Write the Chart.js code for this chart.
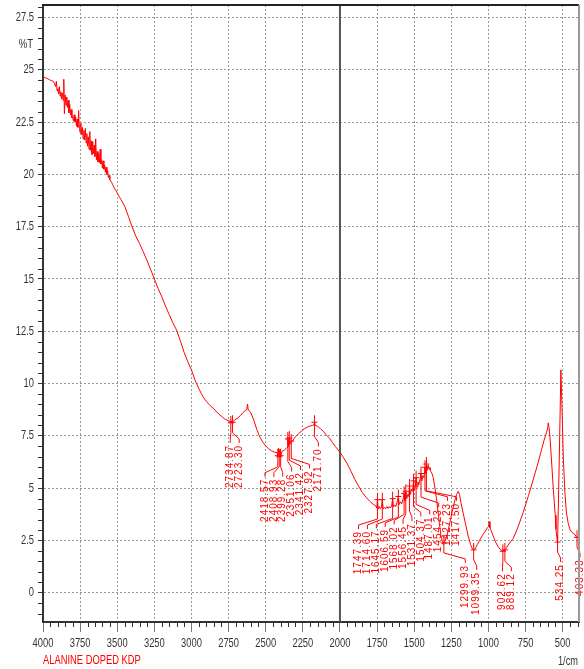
<!DOCTYPE html>
<html>
<head>
<meta charset="utf-8">
<title>ALANINE DOPED KDP</title>
<script src="https://cdn.jsdelivr.net/npm/chart.js@4.4.0/dist/chart.umd.min.js"></script>
<style>
    html, body { margin: 0; padding: 0; background: #fff; }
    #wrap { width: 584px; height: 669px; }
</style>
</head>
<body>
<div id="wrap"><canvas id="ftirChart" width="584" height="669"></canvas></div>
<script>
// FTIR spectrum - alanine doped KDP

// Wavenumbers (1/cm)
const wavenumbers = [
    4000, 3985, 3970, 3955, 3942, 3930,
    3922, 3915, 3910, 3905, 3900, 3895, 3890, 3885, 3880, 3875,
    3870, 3865, 3860, 3856, 3850, 3845, 3840, 3835, 3830, 3825,
    3820, 3815, 3810, 3805, 3800, 3795, 3790, 3785, 3780, 3775,
    3770, 3765, 3760, 3755, 3750, 3745, 3740, 3735, 3730, 3725,
    3720, 3715, 3710, 3705, 3700, 3695, 3690, 3685, 3680, 3675,
    3670, 3665, 3660, 3655, 3650, 3645, 3640, 3635, 3630, 3625,
    3620, 3615, 3610, 3605, 3600, 3595, 3590, 3585, 3580, 3575,
    3570, 3565, 3560, 3555, 3550, 3540, 3530, 3520, 3510, 3500,
    3475, 3450, 3425, 3400, 3375, 3350, 3325, 3300, 3275, 3250,
    3225, 3200, 3175, 3150, 3125, 3100, 3075, 3050, 3025, 3000,
    2975, 2950, 2925, 2900, 2875, 2850, 2825, 2800, 2775, 2750,
    2740, 2734.87, 2728, 2723.3, 2710, 2700, 2685, 2670, 2655, 2640,
    2628, 2622, 2618, 2612, 2600, 2580, 2560, 2540, 2520, 2500,
    2480, 2460, 2440, 2425, 2418.57, 2413, 2408.93, 2404, 2399.28, 2390,
    2375, 2362, 2355, 2351.06, 2347, 2341.42, 2336, 2327.92, 2320, 2300,
    2280, 2260, 2240, 2220, 2200, 2185, 2176, 2171.7, 2166, 2150,
    2130, 2110, 2090, 2070, 2050, 2030, 2015, 2000,
    1975, 1950, 1925, 1900, 1875, 1850, 1825, 1800, 1775, 1760,
    1752, 1747.39, 1742, 1735, 1728, 1720, 1714.6, 1709, 1700, 1692,
    1684, 1676, 1668, 1660, 1652, 1645.17, 1640, 1632, 1624, 1616,
    1606.59, 1600, 1592, 1584, 1576, 1568.02, 1562, 1556.45, 1550, 1543,
    1537, 1531.37, 1525, 1518, 1511, 1504.37, 1498, 1492, 1487.01, 1481,
    1475, 1469, 1462, 1454.23, 1448, 1441, 1434, 1427.23, 1422, 1417.5,
    1412, 1406, 1400, 1394, 1388,
    1380, 1372, 1360, 1350, 1340, 1330, 1320, 1310, 1299.93, 1290,
    1275, 1260, 1240, 1225, 1214, 1203, 1195, 1185, 1170, 1150,
    1136, 1120, 1110, 1099.35, 1090, 1075, 1060, 1040, 1020, 1008,
    1000, 995, 990, 980, 965, 950, 935, 920, 910, 902.62,
    895, 889.12, 880, 870, 850, 833, 800, 766, 730, 698,
    670, 642, 625, 609, 600, 597, 592, 585, 575, 563,
    550, 545, 540, 534.25, 528, 520, 512, 505, 496, 485,
    475, 462, 451, 440, 430, 418, 410, 403.33
];

// Transmittance (%T), same order
const transmittance = [
    24.7, 24.62, 24.58, 24.52, 24.48, 24.45,
    24.33, 24.2, 24.45, 24.0, 24.1, 23.85, 24.2, 23.75, 23.95, 23.6,
    23.9, 23.55, 24.55, 22.9, 23.8, 23.3, 23.7, 23.2, 23.55, 22.95,
    23.35, 22.85, 23.1, 22.7, 22.75, 22.55, 22.85, 22.5, 22.75, 22.3,
    22.65, 22.25, 23.05, 22.2, 22.0, 22.45, 21.9, 22.25, 21.7, 22.1,
    21.65, 22.2, 21.5, 21.95, 21.35, 21.8, 21.2, 22.05, 21.15, 21.6,
    20.95, 21.55, 21.0, 21.4, 20.85, 21.7, 20.7, 21.1, 20.6, 21.0,
    20.55, 21.2, 20.5, 20.7, 20.3, 20.65, 20.25, 20.45, 20.1, 20.35,
    20.0, 20.2, 19.85, 19.95, 19.75, 19.65, 19.5, 19.35, 19.25, 19.1,
    18.8, 18.48, 18.0, 17.5, 17.05, 16.7, 16.3, 15.9, 15.45, 15.0,
    14.55, 14.15, 13.7, 13.3, 12.9, 12.55, 12.05, 11.5, 11.05, 10.65,
    10.15, 9.75, 9.4, 9.15, 8.95, 8.8, 8.6, 8.45, 8.3, 8.22,
    8.2, 8.12, 8.22, 8.15, 8.26, 8.3, 8.36, 8.48, 8.6, 8.7,
    8.75, 9.02, 8.74, 8.72, 8.6, 8.25, 7.8, 7.45, 7.2, 7.02,
    6.88, 6.78, 6.72, 6.7, 6.55, 6.9, 6.5, 6.85, 6.55, 6.75,
    6.82, 6.9, 6.95, 7.35, 7.0, 7.4, 7.1, 7.25, 7.25, 7.45,
    7.6, 7.72, 7.84, 7.92, 7.97, 8.0, 8.02, 8.15, 8.0, 7.95,
    7.83, 7.7, 7.53, 7.38, 7.18, 6.98, 6.85, 6.72,
    6.45, 6.15, 5.8, 5.42, 5.1, 4.8, 4.57, 4.38, 4.22, 4.17,
    4.05, 4.45, 4.0, 4.12, 4.02, 4.1, 4.45, 4.0, 4.08, 4.02,
    4.12, 4.03, 4.12, 4.05, 4.15, 4.5, 4.1, 4.2, 4.12, 4.3,
    4.6, 4.22, 4.35, 4.25, 4.45, 4.75, 4.38, 4.85, 4.5, 4.7,
    4.6, 5.1, 4.7, 4.95, 4.85, 5.35, 4.9, 5.1, 5.5, 5.05,
    5.3, 5.15, 5.4, 5.7, 5.35, 5.6, 5.5, 6.0, 5.7, 6.15,
    5.85, 6.1, 5.9, 6.0, 5.8,
    5.7, 5.5, 5.0, 4.5, 3.9, 3.3, 2.75, 2.45, 2.38, 2.5,
    2.85, 3.35, 4.0, 4.45, 4.7, 4.85, 4.7, 4.3, 3.8, 3.15,
    2.7, 2.3, 2.12, 2.05, 2.1, 2.3, 2.5, 2.75, 2.95, 3.1,
    3.15, 3.4, 3.1, 2.95, 2.65, 2.4, 2.2, 2.07, 2.02, 1.98,
    2.02, 2.05, 2.12, 2.25, 2.45, 2.6, 3.15, 3.84, 4.65, 5.42,
    6.1, 6.85, 7.3, 7.65, 7.9, 8.12, 7.9, 7.4, 6.3, 4.94,
    3.7, 3.03, 2.7, 2.42, 4.5, 7.5, 10.65, 9.0, 6.53, 4.8,
    3.82, 3.3, 3.03, 2.9, 2.85, 2.79, 2.7, 2.65
];

// Labelled peaks (1/cm)
const peakWavenumbers = [
    2734.87, 2723.30, 2418.57, 2408.93, 2399.28, 2351.06, 2341.42, 2327.92, 2171.70,
    1747.39, 1714.60, 1645.17, 1606.59, 1568.02, 1556.45, 1531.37, 1504.37, 1487.01,
    1454.23, 1427.23, 1417.50, 1299.93, 1099.35, 902.62, 889.12, 534.25, 403.33
];

// Axes
const xTickValues = [4000, 3750, 3500, 3250, 3000, 2750, 2500, 2250, 2000, 1750, 1500, 1250, 1000, 750, 500];
const yTickValues = [0, 2.5, 5, 7.5, 10, 12.5, 15, 17.5, 20, 22.5, 25, 27.5];
const xRange = [390, 4000];
const yRange = [-1.4, 28.1];

const sampleName = 'ALANINE DOPED KDP';
const xUnit = '1/cm';
const yUnit = '%T';

const RED = '#ff0000';
const AXIS_FONT = '13px "Liberation Sans", Arial, sans-serif';

document.addEventListener('DOMContentLoaded', function () {
    if (wavenumbers.length !== transmittance.length) {
        console.warn('Longueurs différentes', wavenumbers.length, transmittance.length);
    }
    initChart();
});

// %T at any wavenumber (linear between read points)
function transAt(w) {
    for (let i = 1; i < wavenumbers.length; i++) {
        if (w >= wavenumbers[i]) {
            const w0 = wavenumbers[i - 1], w1 = wavenumbers[i];
            const t = (w0 - w) / (w0 - w1);
            return transmittance[i - 1] + t * (transmittance[i] - transmittance[i - 1]);
        }
    }
    return transmittance[transmittance.length - 1];
}

// Spread label columns so they do not overlap
function spreadColumns(xs, gap) {
    const groups = [];
    xs.forEach((xc, i) => {
        groups.push({ idx: [i], sum: xc, start: xc });
        while (groups.length > 1) {
            const g = groups[groups.length - 1];
            const p = groups[groups.length - 2];
            if (p.start + p.idx.length * gap <= g.start) break;
            p.idx = p.idx.concat(g.idx);
            p.sum += g.sum;
            p.start = p.sum / p.idx.length - (p.idx.length - 1) * gap / 2;
            groups.pop();
        }
    });
    const out = [];
    groups.forEach(g => g.idx.forEach((i, k) => { out[i] = g.start + k * gap; }));
    return out;
}

// Condensed text (the instrument print uses a narrow face)
function narrowText(ctx, text, x, y, align, sx) {
    ctx.save();
    ctx.translate(x, y);
    ctx.scale(sx, 1);
    ctx.textAlign = align;
    ctx.fillText(text, 0, 0);
    ctx.restore();
}

const framePlugin = {
    id: 'frame',
    beforeDatasetsDraw(chart) {
        const { ctx, chartArea: a, scales: { x } } = chart;
        // vertical line at 2000 1/cm
        const x2000 = x.getPixelForValue(2000);
        ctx.save();
        ctx.strokeStyle = '#555';
        ctx.lineWidth = 2;
        ctx.beginPath();
        ctx.moveTo(x2000, a.top);
        ctx.lineTo(x2000, a.bottom);
        ctx.stroke();
        ctx.restore();
    },
    afterDraw(chart) {
        const { ctx, chartArea: a, scales: { x, y } } = chart;
        ctx.save();

        // top and right border
        ctx.strokeStyle = '#222';
        ctx.lineWidth = 2;
        ctx.beginPath();
        ctx.moveTo(a.left - 1, a.top);
        ctx.lineTo(a.right, a.top);
        ctx.stroke();
        ctx.strokeStyle = '#999';
        ctx.beginPath();
        ctx.moveTo(a.right, a.top);
        ctx.lineTo(a.right, a.bottom);
        ctx.stroke();

        // minor ticks
        ctx.strokeStyle = '#333';
        ctx.lineWidth = 1;
        ctx.beginPath();
        for (let k = 80; k >= 8; k--) {
            const v = k * 50;
            if (v % 250 === 0) continue;
            const px = Math.round(x.getPixelForValue(v)) + 0.5;
            ctx.moveTo(px, a.bottom);
            ctx.lineTo(px, a.bottom + 5);
        }
        for (let k = -2; k <= 56; k++) {
            if (k % 5 === 0) continue;
            const py = Math.round(y.getPixelForValue(k * 0.5)) + 0.5;
            ctx.moveTo(a.left - 5, py);
            ctx.lineTo(a.left, py);
        }
        ctx.stroke();

        // tick labels
        ctx.font = AXIS_FONT;
        ctx.fillStyle = '#333';
        ctx.textBaseline = 'middle';
        x.ticks.forEach(t => {
            narrowText(ctx, String(t.value), x.getPixelForValue(t.value), a.bottom + 21, 'center', 0.72);
        });
        y.ticks.forEach(t => {
            narrowText(ctx, String(t.value), a.left - 9, y.getPixelForValue(t.value), 'right', 0.72);
        });

        // units and sample name
        ctx.font = '12px "Liberation Sans", Arial, sans-serif';
        narrowText(ctx, yUnit, 26, 45, 'center', 0.8);
        narrowText(ctx, xUnit, a.right - 1, 662, 'right', 0.77);
        ctx.fillStyle = RED;
        narrowText(ctx, sampleName, a.left, 661, 'left', 0.78);
        ctx.restore();
    }
};

const peakPlugin = {
    id: 'peakLabels',
    afterDatasetsDraw(chart) {
        const { ctx, scales: { x, y } } = chart;
        const items = peakWavenumbers.map(w => {
            const xc = x.getPixelForValue(w);
            const yc = y.getPixelForValue(transAt(w));
            let low = yc;
            for (let k = 0; k < wavenumbers.length; k++) {
                if (Math.abs(x.getPixelForValue(wavenumbers[k]) - xc) <= 6) {
                    low = Math.max(low, y.getPixelForValue(transmittance[k]));
                }
            }
            return { text: w.toFixed(2), xc, yc, top: low + 22 };
        });
        const cols = spreadColumns(items.map(it => it.xc), 8.9);

        ctx.save();
        ctx.strokeStyle = RED;
        ctx.fillStyle = RED;
        ctx.lineWidth = 1;
        ctx.font = '10px "Liberation Sans", Arial, sans-serif';
        if ('letterSpacing' in ctx) ctx.letterSpacing = '1px';
        items.forEach((it, i) => {
            const xt = cols[i] + 3;
            ctx.beginPath();
            ctx.moveTo(it.xc, it.yc - 7);
            ctx.lineTo(it.xc, it.top - 12);
            ctx.lineTo(xt, it.top - 6);
            ctx.lineTo(xt, it.top - 2);
            ctx.moveTo(it.xc - 3, it.yc);
            ctx.lineTo(it.xc + 3, it.yc);
            ctx.stroke();

            ctx.save();
            ctx.translate(xt, it.top);
            ctx.rotate(-Math.PI / 2);
            ctx.textAlign = 'right';
            ctx.textBaseline = 'middle';
            ctx.fillText(it.text, 0, 0);
            ctx.restore();
        });
        ctx.restore();
    }
};

function initChart() {
    const ctx = document.getElementById('ftirChart').getContext('2d');
    const points = wavenumbers.map((w, i) => ({ x: w, y: transmittance[i] }));

    new Chart(ctx, {
        type: 'line',
        data: {
            datasets: [{
                label: sampleName,
                data: points,
                borderColor: RED,
                borderWidth: 1,
                pointRadius: 0,
                tension: 0,
                fill: false
            }]
        },
        options: {
            responsive: false,
            animation: false,
            devicePixelRatio: 1,
            layout: { autoPadding: false, padding: { top: 5, right: 5, left: 0, bottom: 0 } },
            plugins: {
                legend: { display: false },
                tooltip: { enabled: false }
            },
            scales: {
                x: {
                    type: 'linear',
                    reverse: true,
                    min: xRange[0],
                    max: xRange[1],
                    afterBuildTicks: s => { s.ticks = xTickValues.map(v => ({ value: v })); },
                    afterFit: s => { s.height = 47; },
                    grid: { color: '#9a9a9a', lineWidth: 1, tickLength: 10, tickColor: '#777', tickWidth: 1 },
                    border: { color: '#333', width: 2, dash: [2, 2] },
                    ticks: { display: false, autoSkip: false }
                },
                y: {
                    min: yRange[0],
                    max: yRange[1],
                    afterBuildTicks: s => { s.ticks = yTickValues.map(v => ({ value: v })); },
                    afterFit: s => { s.width = 43; },
                    grid: { color: '#9a9a9a', lineWidth: 1, tickLength: 5, tickColor: '#333', tickWidth: 1 },
                    border: { color: '#333', width: 2, dash: [2, 2] },
                    ticks: { display: false, autoSkip: false }
                }
            }
        },
        plugins: [framePlugin, peakPlugin]
    });
}
</script>
</body>
</html>
